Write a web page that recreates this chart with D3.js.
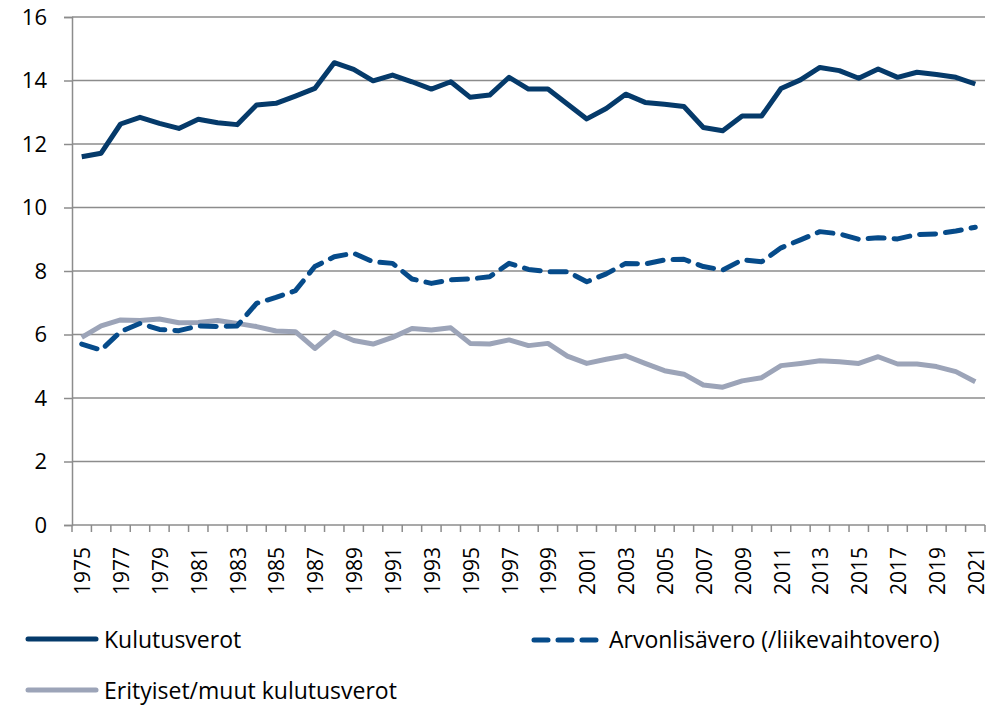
<!DOCTYPE html>
<meta charset="utf-8">
<style>
  body { margin: 0; background: #fff; }
  text { font-family: 'Open Sans', sans-serif; fill: #000; }
</style>
<script src="https://d3js.org/d3.v7.min.js"></script>
<body>
<div id="chart"></div>
<script>

var years = d3.range(1975, 2022)
var kulutusverot = [11.60, 11.71, 12.63, 12.84, 12.65, 12.49, 12.78, 12.67, 12.61, 13.23,
  13.28, 13.51, 13.75, 14.56, 14.35, 13.99, 14.17, 13.96, 13.73, 13.96,
  13.47, 13.54, 14.10, 13.73, 13.73, 13.26, 12.79, 13.12, 13.57, 13.31,
  13.25, 13.18, 12.52, 12.42, 12.88, 12.88, 13.75, 14.02, 14.41, 14.31,
  14.07, 14.36, 14.10, 14.26, 14.19, 14.10, 13.89]
var arvonlisavero = [5.70, 5.51, 6.09, 6.35, 6.16, 6.12, 6.27, 6.25, 6.27, 6.98,
  7.17, 7.38, 8.14, 8.45, 8.56, 8.29, 8.24, 7.75, 7.61, 7.72,
  7.75, 7.82, 8.24, 8.05, 7.98, 7.98, 7.66, 7.91, 8.24, 8.22,
  8.35, 8.37, 8.14, 8.03, 8.35, 8.29, 8.73, 8.98, 9.24, 9.17,
  9.00, 9.05, 9.01, 9.15, 9.17, 9.26, 9.38]
var erityiset = [5.91, 6.27, 6.46, 6.44, 6.49, 6.37, 6.38, 6.44, 6.35, 6.25,
  6.11, 6.09, 5.56, 6.07, 5.81, 5.70, 5.91, 6.19, 6.14, 6.21,
  5.72, 5.70, 5.83, 5.65, 5.72, 5.32, 5.09, 5.22, 5.33, 5.09,
  4.86, 4.75, 4.41, 4.34, 4.54, 4.64, 5.02, 5.09, 5.17, 5.14,
  5.09, 5.30, 5.07, 5.07, 4.99, 4.83, 4.51]
var yTicks = [0, 2, 4, 6, 8, 10, 12, 14, 16]

var width = 994,
    height = 705
var plotLeft = 72, plotRight = 985, plotTop = 17, plotBottom = 525

var series = [
  {name: "Kulutusverot", values: kulutusverot, color: "#053a6a", dash: null},
  {name: "Arvonlisävero (/liikevaihtovero)", values: arvonlisavero, color: "#064b8a", dash: "16,10"},
  {name: "Erityiset/muut kulutusverot", values: erityiset, color: "#9ca4b8", dash: null}
]

var svg = d3.select("#chart").append("svg")
  .attr("width", width)
  .attr("height", height)

var x = d3.scaleBand().domain(years).range([plotLeft, plotRight])
var y = d3.scaleLinear().domain([0, 16]).range([plotBottom, plotTop])

// gridlines
svg.append("g").selectAll("line")
  .data(yTicks.filter(function(d){ return d > 0 }))
  .enter().append("line")
  .attr("x1", plotLeft).attr("x2", plotRight)
  .attr("y1", function(d){ return y(d) }).attr("y2", function(d){ return y(d) })
  .attr("stroke", "#8c8c8c").attr("stroke-width", 1.5)

// y axis
var yAxis = svg.append("g")
  .attr("transform", "translate(" + plotLeft + ",0)")
  .call(d3.axisLeft(y).tickValues(yTicks).tickSize(8).tickPadding(17).tickFormat(d3.format("d")))
yAxis.select(".domain").attr("stroke", "#8c8c8c").attr("stroke-width", 1.5)
yAxis.selectAll(".tick line").attr("stroke", "#8c8c8c").attr("stroke-width", 1.5)
yAxis.selectAll("text").style("font-size", "22px").style("font-family", "'Open Sans', sans-serif")

// x axis: ticks at band edges, labels every second year
var xg = svg.append("g").attr("transform", "translate(0," + plotBottom + ")")
xg.append("line").attr("x1", plotLeft).attr("x2", plotRight)
  .attr("stroke", "#8c8c8c").attr("stroke-width", 1.5)
xg.selectAll(".tk")
  .data(years.concat([years[years.length - 1] + 1]))
  .enter().append("line")
  .attr("x1", function(d, i){ return plotLeft + i * x.step() })
  .attr("x2", function(d, i){ return plotLeft + i * x.step() })
  .attr("y1", 0).attr("y2", 7)
  .attr("stroke", "#8c8c8c").attr("stroke-width", 1.5)
xg.selectAll(".lbl")
  .data(years.filter(function(d){ return d % 2 == 1 }))
  .enter().append("text")
  .attr("transform", function(d){
    return "translate(" + (x(d) + x.bandwidth() / 2 + 8.5) + ",22) rotate(-90)"
  })
  .attr("text-anchor", "end")
  .style("font-size", "21px")
  .text(function(d){ return d })

// lines
var line = d3.line()
  .x(function(d, i){ return x(years[i]) + x.bandwidth() / 2 })
  .y(function(d){ return y(d) })

svg.append("g").selectAll("path")
  .data([series[2], series[1], series[0]])
  .enter().append("path")
  .attr("d", function(d){ return line(d.values) })
  .attr("fill", "none")
  .attr("stroke", function(d){ return d.color })
  .attr("stroke-width", 5)
  .attr("stroke-linejoin", "round")
  .attr("stroke-linecap", function(d){ return d.dash ? "round" : "butt" })
  .attr("stroke-dasharray", function(d){ return d.dash })

// legend
var legendPos = [[28, 639], [534, 640], [28, 690]]
var lg = svg.append("g").selectAll("g")
  .data(series)
  .enter().append("g")
  .attr("transform", function(d, i){ return "translate(" + legendPos[i][0] + "," + legendPos[i][1] + ")" })
lg.append("line")
  .attr("x1", 0).attr("x2", function(d){ return d.dash ? 62 : 68 })
  .attr("stroke", function(d){ return d.color })
  .attr("stroke-width", 5)
  .attr("stroke-linecap", "round")
  .attr("stroke-dasharray", function(d){ return d.dash ? "14,10" : null })
lg.append("text")
  .attr("x", function(d){ return d.dash ? 75 : 76 })
  .attr("y", function(d){ return d.dash ? 8 : 9 })
  .style("font-size", "23px")
  .text(function(d){ return d.name })

</script>
</body>
